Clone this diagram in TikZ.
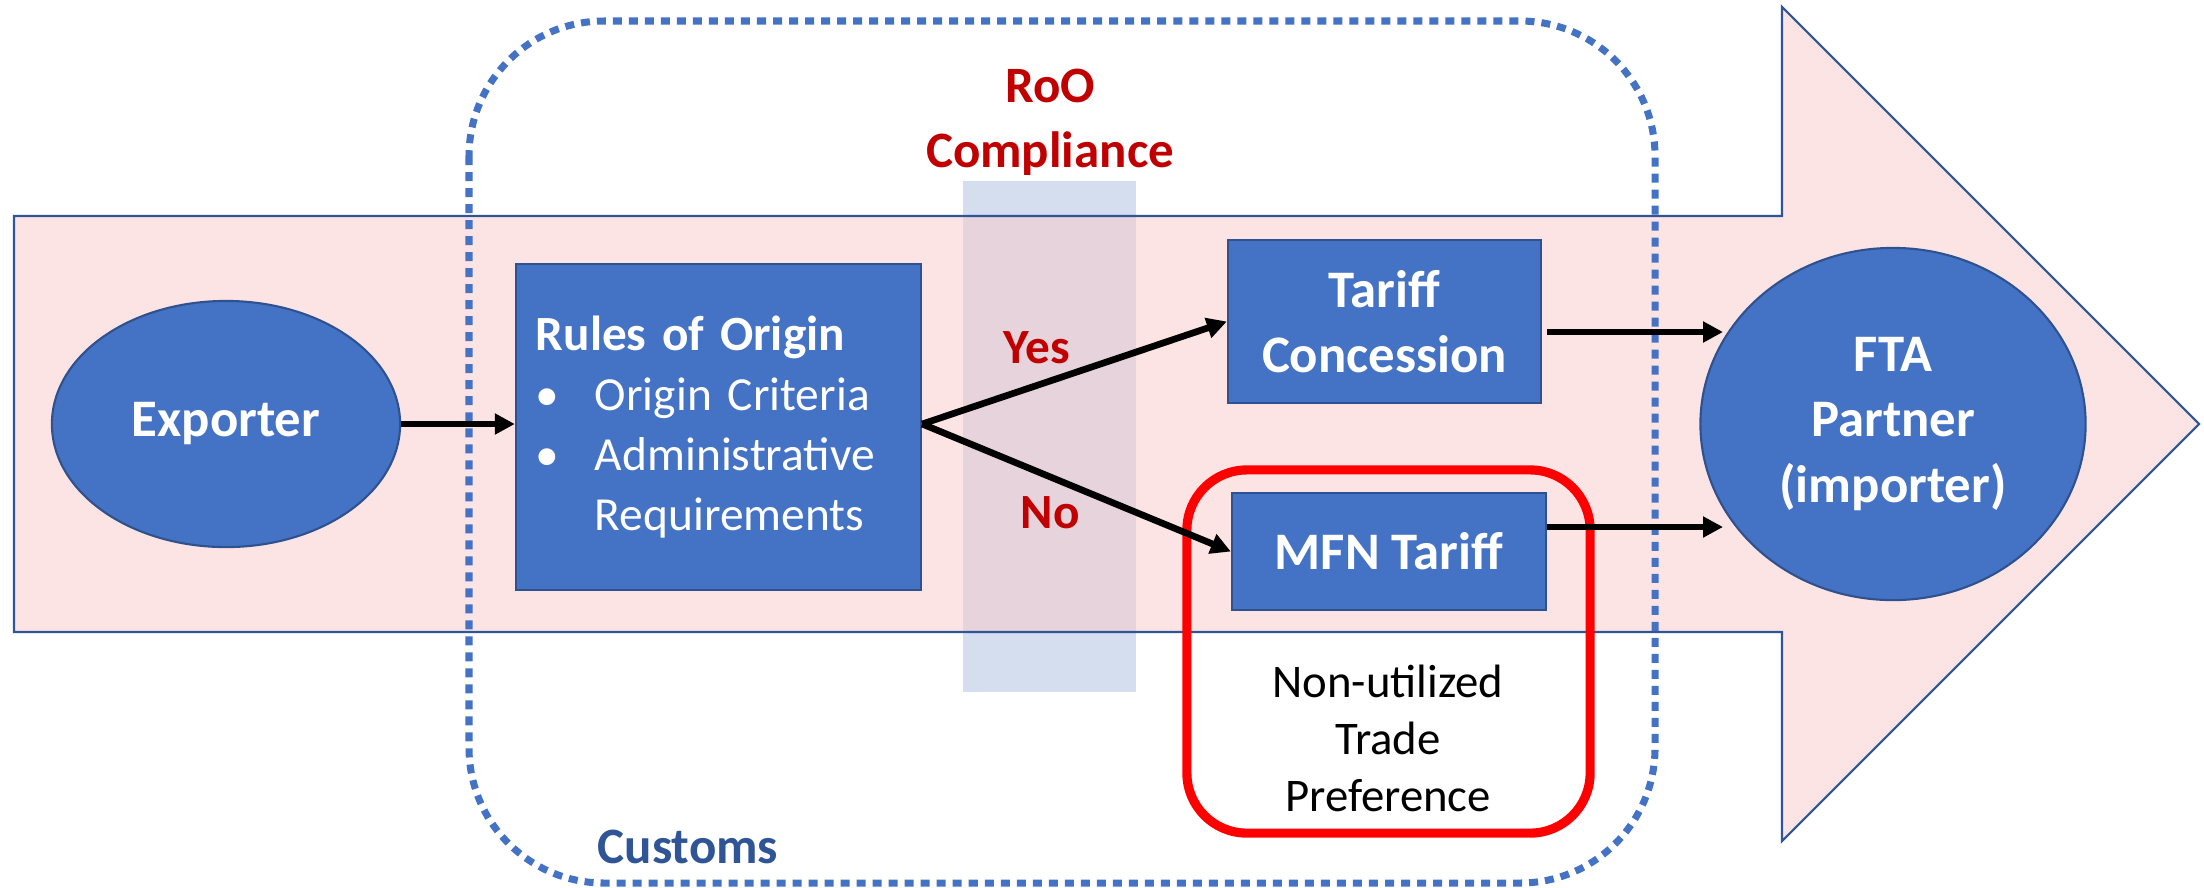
\documentclass[tikz,border=0pt]{standalone}
\usepackage{fontspec}
\setmainfont{Carlito}
\usepackage{tikz}
\usetikzlibrary{shapes.geometric, arrows.meta}
\usepackage{xcolor}

\definecolor{boxblue}{HTML}{4472C4}
\definecolor{boxedge}{HTML}{2F528F}
\definecolor{flowedge}{HTML}{2F5597}
\definecolor{flowpink}{RGB}{249,201,201}
\definecolor{bandblue}{RGB}{212,222,239}
\definecolor{roored}{HTML}{C00000}

\tikzset{
  bluebox/.style={rectangle, draw=boxedge, fill=boxblue, line width=0.6pt, inner sep=0pt,
    text=white, align=center, font=\bfseries\fontsize{15}{18.5}\selectfont},
  blueoval/.style={ellipse, draw=boxedge, fill=boxblue, line width=0.6pt, inner sep=0pt,
    text=white, align=center, font=\bfseries\fontsize{15}{18.5}\selectfont},
  answer/.style={text=roored, font=\bfseries\fontsize{14}{17}\selectfont},
  arr/.style={-{Triangle[length=0.2cm,width=0.2cm]}, line width=1.9pt},
}

\begin{document}
\begin{tikzpicture}[x=0.01cm, y=-0.01cm]
        \useasboundingbox (0,0) rectangle (2204,887);

        % compliance band and the big flow arrow
        \fill[bandblue] (963,181) rectangle (1136,692);
        \filldraw[fill=flowpink, fill opacity=0.5, draw=flowedge, line width=0.6pt]
            (14,216) -- (1782,216) -- (1782,7) -- (2199,424) -- (1782,841)
            -- (1782,632) -- (14,632) -- cycle;

        % customs border
        \draw[boxblue, line width=2pt, dash pattern=on 0.09cm off 0.07cm, rounded corners=1.35cm]
            (469,21) rectangle (1655,883);
        \node[anchor=west, inner sep=0pt, text=flowedge, font=\bfseries\fontsize{14.5}{17}\selectfont]
            (customs) at (597,847) {Customs};

        \node[align=center, text=roored, font=\bfseries\fontsize{14.5}{18.5}\selectfont]
            (roo) at (1050,122) {RoO\\Compliance};

        % nodes
        \node[blueoval, minimum width=3.48cm, minimum height=2.46cm] (exporter) at (226,424) {Exporter};
        \node[bluebox, minimum width=4.05cm, minimum height=3.25cm, text width=3.65cm,
              inner xsep=0.2cm, align=left, font=\fontsize{13.5}{17}\selectfont]
            (rules) at (718.5,427)
            {{\fontsize{14}{17}\selectfont\bfseries Rules of Origin}\\
             \makebox[0.59cm][l]{\textbullet}Origin Criteria\\
             \makebox[0.59cm][l]{\textbullet}Administrative\\
             \hspace*{0.59cm}Requirements};
        \node[bluebox, minimum width=3.13cm, minimum height=1.63cm] (concession) at (1384.5,321.5) {Tariff\\Concession};
        \node[bluebox, minimum width=3.14cm, minimum height=1.17cm] (mfn) at (1389,551.5) {MFN Tariff};
        \node[blueoval, minimum width=3.85cm, minimum height=3.52cm] (fta) at (1893,424) {FTA\\Partner\\(importer)};

        % non-utilized preference
        \node[draw=red, line width=2.6pt, rounded corners=0.6cm, minimum width=4.03cm, minimum height=3.63cm]
            (unused) at (1388.5,651.5) {};
        \node[align=center, font=\fontsize{13.3}{16.2}\selectfont] (unusedtext) at (1388,738)
            {Non-utilized\\Trade\\Preference};

        \node[answer] (yes) at (1037,348) {Yes};
        \node[answer] (no) at (1050,513) {No};

        % arrows
        \coordinate (endtop) at (1723,332);
        \coordinate (endlow) at (1723,527);
        \draw[arr] (exporter.east) -- (rules.west |- exporter.east);
        \draw[arr] (rules.east |- exporter.east) -- (concession.west);
        \draw[arr] (rules.east |- exporter.east) -- (mfn.west);
        \draw[arr] ([xshift=0.05cm]concession.east |- endtop) -- (endtop);
        \draw[arr] (mfn.east |- endlow) -- (endlow);
    \end{tikzpicture}
\end{document}
